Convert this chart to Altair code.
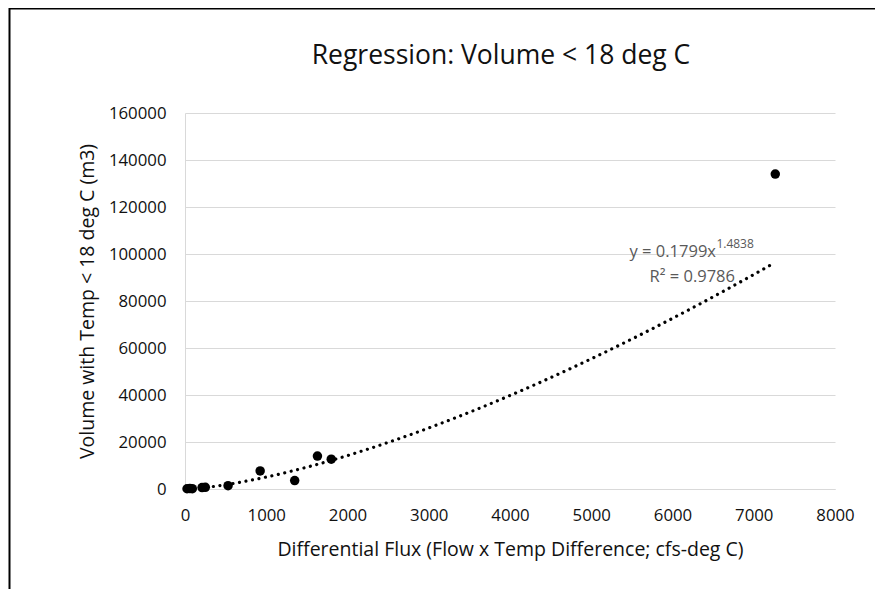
import altair as alt
import pandas as pd

# ---- data ----
flux = [25, 60, 90, 210, 250, 530, 925, 1350, 1630, 1800, 7265]
volume = [100, 200, 150, 600, 700, 1400, 7700, 3600, 14000, 12700, 134000]
x_ticks = [0, 1000, 2000, 3000, 4000, 5000, 6000, 7000, 8000]
y_ticks = [0, 20000, 40000, 60000, 80000, 100000, 120000, 140000, 160000]

# power trendline shown in the chart: y = COEF * x^EXPO
COEF = 0.1799
EXPO = 1.4838
R2 = 0.9786

TITLE = "Regression:  Volume < 18 deg C"
X_TITLE = "Differential Flux (Flow x Temp Difference; cfs-deg C)"
Y_TITLE = "Volume with Temp < 18 deg C (m3)"

FONT = "Open Sans"
TXT = "#111111"
GRID = "#d9d9d9"

points_df = pd.DataFrame({"flux": flux, "volume": volume})

xscale = alt.Scale(domain=[0, 8000], nice=False, zero=True)
yscale = alt.Scale(domain=[0, 160000], nice=False, zero=True)

xaxis = alt.Axis(
    values=x_ticks, format="d", grid=False, ticks=False,
    domainColor=GRID, domainWidth=1, labelFlush=False,
    labelFont=FONT, labelFontSize=16.8, labelColor=TXT, labelPadding=18,
    title=X_TITLE,
    titleFont=FONT, titleFontSize=19.5, titleFontWeight="normal",
    titleColor=TXT, titleBaseline="middle", titleY=60,
)
yaxis = alt.Axis(
    values=y_ticks, format="d", grid=True, gridColor=GRID, gridWidth=1,
    ticks=False, domainColor=GRID, domainWidth=1, labelFlush=False,
    labelFont=FONT, labelFontSize=16.8, labelColor=TXT, labelPadding=19,
    title=Y_TITLE,
    titleFont=FONT, titleFontSize=19.5, titleFontWeight="normal",
    titleColor=TXT, titleBaseline="middle", titleX=-98, titleY=188,
)

X = alt.X("flux:Q", scale=xscale, axis=xaxis)
Y = alt.Y("volume:Q", scale=yscale, axis=yaxis)

points = alt.Chart(points_df).mark_circle(size=90, color="black", opacity=1).encode(x=X, y=Y)

trend = (
    alt.Chart(alt.sequence(start=min(flux), stop=max(flux) + 1, step=15, as_="flux"))
    .transform_calculate(volume=f"{COEF} * pow(datum.flux, {EXPO})")
    .mark_line(strokeDash=[0.01, 6.6], strokeCap="round", strokeWidth=3.2, color="black")
    .encode(x=X, y=Y)
)

# trendline label (positions in data units)
eq_main = pd.DataFrame({"flux": [6535], "volume": [98700], "t": [f"y = {COEF}x"]})
eq_sup = pd.DataFrame({"flux": [6540], "volume": [102400], "t": [f"{EXPO}"]})
eq_r2 = pd.DataFrame({"flux": [6769], "volume": [88200], "t": [f"R² = {R2}"]})

lab_main = alt.Chart(eq_main).mark_text(
    font=FONT, fontSize=16.5, color="#595959", align="right", baseline="alphabetic"
).encode(x=X, y=Y, text="t:N")
lab_sup = alt.Chart(eq_sup).mark_text(
    font=FONT, fontSize=12, color="#595959", align="left", baseline="alphabetic"
).encode(x=X, y=Y, text="t:N")
lab_r2 = alt.Chart(eq_r2).mark_text(
    font=FONT, fontSize=16.5, color="#595959", align="right", baseline="alphabetic"
).encode(x=X, y=Y, text="t:N")

# chart title, placed in pixels above the plot area
title_df = pd.DataFrame({"t": [TITLE]})
title = alt.Chart(title_df).mark_text(
    font=FONT, fontSize=26.5, color=TXT, align="center", baseline="alphabetic"
).encode(x=alt.value(316), y=alt.value(-49.5), text="t:N")

# outer chart-area frame: only its left and top edges fall inside the picture
one = pd.DataFrame({"k": [0]})
frame = alt.Chart(one).mark_rect(fill=None, stroke="black", strokeWidth=2).encode(
    x=alt.value(-175.5), x2=alt.value(720), y=alt.value(-104.5), y2=alt.value(560)
)

chart = (
    alt.layer(frame, trend, points, lab_main, lab_sup, lab_r2, title)
    .properties(
        width=650,
        height=376,
        autosize=alt.AutoSizeParams(type="none"),
        padding={"left": 177, "top": 105, "right": 40, "bottom": 100},
        background="white",
    )
    .configure_view(stroke=None)
)

chart.save("out.html", embed_options={"renderer": "svg", "actions": False})
